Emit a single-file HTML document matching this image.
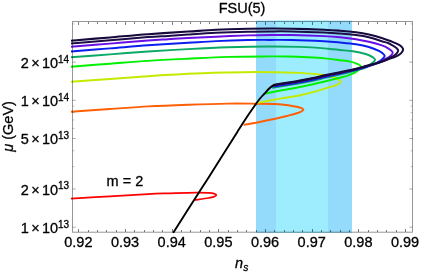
<!DOCTYPE html><html><head><meta charset="utf-8"><style>html,body{margin:0;padding:0;background:#fff;overflow:hidden}body{width:436px;height:272px;position:relative;font-family:"Liberation Sans",sans-serif}</style></head><body><svg width="436" height="272" viewBox="0 0 436 272" style="position:absolute;left:0;top:0;will-change:transform">
<rect width="436" height="272" fill="#fff"/>
<rect x="256" y="20.6" width="96" height="212.2" fill="#94dbfb"/>
<rect x="276" y="20.6" width="52" height="212.2" fill="#9eedff"/>
<defs><clipPath id="c"><rect x="70.6" y="20" width="344" height="213.2"/></clipPath></defs>
<g clip-path="url(#c)" fill="none" stroke-linecap="butt" stroke-linejoin="round">
<path d="M71.00,198.60 C77.50,198.22 97.17,197.06 110.00,196.30 C122.83,195.54 138.00,194.55 148.00,194.05 C158.00,193.55 162.05,193.54 170.00,193.30 C177.95,193.06 189.27,192.67 195.70,192.60 C202.13,192.53 205.55,192.73 208.60,192.90 C211.65,193.07 212.72,193.23 214.00,193.60 C215.28,193.97 216.38,194.55 216.30,195.10 C216.22,195.65 214.78,196.42 213.50,196.90 C212.22,197.38 211.77,197.45 208.60,198.00 C205.43,198.55 196.85,199.83 194.50,200.20" stroke="#ff0000" stroke-width="1.75"/>
<path d="M71.00,111.70 C77.50,111.25 97.17,109.88 110.00,109.00 C122.83,108.12 135.00,107.12 148.00,106.40 C161.00,105.68 174.67,105.17 188.00,104.70 C201.33,104.23 216.67,103.77 228.00,103.60 C239.33,103.43 248.12,103.63 256.00,103.70 C263.88,103.77 269.93,103.75 275.30,104.00 C280.67,104.25 284.33,104.67 288.20,105.20 C292.07,105.73 296.25,106.70 298.50,107.20 C300.75,107.70 300.88,107.78 301.70,108.20 C302.52,108.62 303.40,109.20 303.40,109.70 C303.40,110.20 302.52,110.70 301.70,111.20 C300.88,111.70 300.75,111.97 298.50,112.70 C296.25,113.43 292.07,114.58 288.20,115.60 C284.33,116.62 280.67,117.62 275.30,118.80 C269.93,119.98 261.28,121.70 256.00,122.70 C250.72,123.70 245.67,124.45 243.60,124.80" stroke="#ff5f05" stroke-width="1.95"/>
<path d="M71.00,81.70 C77.50,81.25 97.17,79.92 110.00,79.00 C122.83,78.08 135.00,77.07 148.00,76.20 C161.00,75.33 174.67,74.42 188.00,73.80 C201.33,73.18 216.67,72.80 228.00,72.50 C239.33,72.20 247.05,72.02 256.00,72.00 C264.95,71.98 274.37,72.25 281.70,72.40 C289.03,72.55 294.80,72.65 300.00,72.90 C305.20,73.15 308.62,73.48 312.90,73.90 C317.18,74.32 322.07,74.75 325.70,75.40 C329.33,76.05 332.22,76.82 334.70,77.80 C337.18,78.78 340.33,80.07 340.60,81.30 C340.87,82.53 338.57,84.10 336.30,85.20 C334.03,86.30 330.38,86.87 327.00,87.90 C323.62,88.93 320.50,90.18 316.00,91.40 C311.50,92.62 305.33,94.10 300.00,95.20 C294.67,96.30 288.12,97.28 284.00,98.00 C279.88,98.72 279.55,98.73 275.30,99.50 C271.05,100.27 261.55,102.03 258.50,102.60 C255.45,103.17 257.25,102.85 257.00,102.90" stroke="#c3eb00" stroke-width="1.95"/>
<path d="M71.00,66.70 C77.50,66.20 97.17,64.67 110.00,63.70 C122.83,62.73 135.00,61.68 148.00,60.85 C161.00,60.02 174.67,59.36 188.00,58.70 C201.33,58.04 214.67,57.28 228.00,56.90 C241.33,56.52 258.00,56.47 268.00,56.40 C278.00,56.33 281.33,56.35 288.00,56.50 C294.67,56.65 301.87,56.98 308.00,57.30 C314.13,57.62 319.47,57.92 324.80,58.40 C330.13,58.88 335.75,59.67 340.00,60.20 C344.25,60.73 347.52,61.03 350.30,61.60 C353.08,62.17 354.98,62.83 356.70,63.60 C358.42,64.37 360.60,64.88 360.60,66.20 C360.60,67.52 358.85,69.93 356.70,71.50 C354.55,73.07 350.72,74.52 347.70,75.60 C344.68,76.68 342.27,77.07 338.60,78.00 C334.93,78.93 329.98,80.17 325.70,81.20 C321.42,82.23 317.18,83.23 312.90,84.20 C308.62,85.17 305.20,86.00 300.00,87.00 C294.80,88.00 287.20,89.17 281.70,90.20 C276.20,91.23 269.70,92.64 267.00,93.20 C264.30,93.76 265.75,93.49 265.50,93.55" stroke="#00f000" stroke-width="1.95"/>
<path d="M71.00,57.30 C77.50,56.82 97.17,55.37 110.00,54.40 C122.83,53.43 135.00,52.38 148.00,51.50 C161.00,50.62 174.67,49.80 188.00,49.10 C201.33,48.40 214.67,47.73 228.00,47.30 C241.33,46.87 256.00,46.57 268.00,46.50 C280.00,46.43 290.00,46.53 300.00,46.90 C310.00,47.27 321.33,48.18 328.00,48.70 C334.67,49.22 335.85,49.57 340.00,50.00 C344.15,50.43 348.62,50.63 352.90,51.30 C357.18,51.97 362.48,53.08 365.70,54.00 C368.92,54.92 370.63,55.88 372.20,56.85 C373.77,57.82 375.10,58.77 375.10,59.80 C375.10,60.82 373.33,62.03 372.20,63.00 C371.07,63.97 369.38,64.82 368.30,65.60 C367.22,66.38 367.75,66.82 365.70,67.66 C363.65,68.49 360.52,69.42 356.00,70.60 C351.48,71.78 343.65,73.55 338.60,74.73 C333.55,75.90 329.98,76.64 325.70,77.65 C321.42,78.66 317.18,79.82 312.90,80.77 C308.62,81.71 304.12,82.54 300.00,83.30 C295.88,84.06 292.32,84.63 288.20,85.30 C284.08,85.97 277.98,86.88 275.30,87.30 C272.62,87.72 272.63,87.71 272.10,87.80" stroke="#0aaa64" stroke-width="1.95"/>
<path d="M71.00,51.50 C77.50,50.98 97.17,49.43 110.00,48.40 C122.83,47.37 135.00,46.23 148.00,45.30 C161.00,44.37 176.67,43.50 188.00,42.80 C199.33,42.10 206.00,41.57 216.00,41.10 C226.00,40.63 239.00,40.20 248.00,40.00 C257.00,39.80 262.67,39.90 270.00,39.90 C277.33,39.90 283.00,39.77 292.00,40.00 C301.00,40.23 316.00,40.88 324.00,41.30 C332.00,41.72 334.67,42.02 340.00,42.50 C345.33,42.98 351.18,43.45 356.00,44.20 C360.82,44.95 365.00,45.83 368.90,47.00 C372.80,48.17 376.80,49.83 379.40,51.20 C382.00,52.57 383.82,54.08 384.50,55.20 C385.18,56.32 384.20,56.98 383.50,57.90 C382.80,58.82 381.60,59.78 380.30,60.70 C379.00,61.62 377.08,62.65 375.70,63.40 C374.32,64.15 373.67,64.60 372.00,65.20 C370.33,65.80 368.37,66.23 365.70,67.01 C363.03,67.80 360.52,68.74 356.00,69.89 C351.48,71.04 343.65,72.77 338.60,73.91 C333.55,75.05 329.98,75.76 325.70,76.74 C321.42,77.72 317.18,78.85 312.90,79.78 C308.62,80.70 304.12,81.55 300.00,82.30 C295.88,83.05 292.32,83.63 288.20,84.30 C284.08,84.97 277.78,85.91 275.30,86.30 C272.82,86.69 273.63,86.56 273.30,86.61" stroke="#0a1ef0" stroke-width="1.95"/>
<path d="M71.00,46.70 C77.50,46.18 97.17,44.63 110.00,43.60 C122.83,42.57 138.33,41.23 148.00,40.50 C157.67,39.77 161.33,39.62 168.00,39.20 C174.67,38.78 180.00,38.42 188.00,38.00 C196.00,37.58 206.00,37.13 216.00,36.70 C226.00,36.27 239.00,35.68 248.00,35.40 C257.00,35.12 262.67,35.06 270.00,35.00 C277.33,34.94 283.00,34.87 292.00,35.05 C301.00,35.23 316.00,35.74 324.00,36.10 C332.00,36.46 334.67,36.68 340.00,37.20 C345.33,37.72 351.18,38.43 356.00,39.20 C360.82,39.97 364.70,40.80 368.90,41.80 C373.10,42.80 377.92,44.07 381.20,45.20 C384.48,46.33 386.63,47.40 388.55,48.60 C390.47,49.80 392.32,51.23 392.70,52.40 C393.08,53.57 391.70,54.68 390.85,55.60 C390.00,56.52 388.91,57.13 387.60,57.90 C386.29,58.67 384.37,59.47 383.00,60.20 C381.63,60.93 381.23,61.53 379.40,62.30 C377.57,63.07 374.28,64.09 372.00,64.80 C369.72,65.51 368.37,65.80 365.70,66.55 C363.03,67.31 360.52,68.23 356.00,69.33 C351.48,70.44 343.65,72.08 338.60,73.18 C333.55,74.27 329.98,74.95 325.70,75.88 C321.42,76.82 317.18,77.89 312.90,78.79 C308.62,79.69 304.12,80.55 300.00,81.30 C295.88,82.05 292.32,82.63 288.20,83.30 C284.08,83.97 277.62,84.94 275.30,85.30 C272.98,85.66 274.47,85.43 274.30,85.46" stroke="#6a0ee6" stroke-width="1.95"/>
<path d="M71.00,43.60 C77.50,43.05 97.17,41.38 110.00,40.30 C122.83,39.22 138.33,37.83 148.00,37.10 C157.67,36.37 161.33,36.33 168.00,35.90 C174.67,35.47 180.00,35.02 188.00,34.50 C196.00,33.98 206.00,33.27 216.00,32.80 C226.00,32.33 239.00,31.93 248.00,31.70 C257.00,31.47 262.67,31.44 270.00,31.40 C277.33,31.36 283.00,31.27 292.00,31.45 C301.00,31.63 316.00,32.16 324.00,32.50 C332.00,32.84 334.67,33.07 340.00,33.50 C345.33,33.93 351.18,34.47 356.00,35.10 C360.82,35.73 364.62,36.28 368.90,37.30 C373.18,38.32 378.52,40.25 381.70,41.20 C384.88,42.15 386.25,42.33 388.00,43.00 C389.75,43.67 390.80,44.38 392.20,45.20 C393.60,46.02 395.40,47.00 396.40,47.90 C397.40,48.80 398.20,49.62 398.20,50.60 C398.20,51.58 397.25,52.88 396.40,53.80 C395.55,54.72 394.50,55.30 393.10,56.10 C391.70,56.90 390.28,57.52 388.00,58.60 C385.72,59.68 382.07,61.58 379.40,62.60 C376.73,63.62 374.28,64.06 372.00,64.70 C369.72,65.34 368.37,65.68 365.70,66.43 C363.03,67.18 360.52,68.09 356.00,69.18 C351.48,70.27 343.65,71.89 338.60,72.97 C333.55,74.04 329.98,74.71 325.70,75.63 C321.42,76.55 317.18,77.60 312.90,78.49 C308.62,79.39 304.12,80.25 300.00,81.00 C295.88,81.75 292.32,82.33 288.20,83.00 C284.08,83.67 277.53,84.65 275.30,85.00 C273.07,85.35 274.88,85.06 274.80,85.08" stroke="#1e0c46" stroke-width="2.00"/>
<path d="M71.00,40.70 C77.50,40.15 97.17,38.48 110.00,37.40 C122.83,36.32 135.00,35.17 148.00,34.20 C161.00,33.23 176.67,32.33 188.00,31.60 C199.33,30.87 206.00,30.27 216.00,29.80 C226.00,29.33 239.00,29.01 248.00,28.80 C257.00,28.59 262.67,28.57 270.00,28.55 C277.33,28.53 283.00,28.51 292.00,28.70 C301.00,28.89 316.00,29.37 324.00,29.70 C332.00,30.03 334.67,30.27 340.00,30.70 C345.33,31.13 351.18,31.67 356.00,32.30 C360.82,32.93 364.62,33.57 368.90,34.50 C373.18,35.43 377.88,36.72 381.70,37.90 C385.52,39.08 388.97,40.48 391.80,41.60 C394.63,42.72 397.02,43.68 398.70,44.60 C400.38,45.52 401.17,46.25 401.90,47.10 C402.63,47.95 403.18,48.73 403.10,49.70 C403.02,50.67 402.29,51.92 401.40,52.90 C400.51,53.88 399.28,54.77 397.75,55.60 C396.22,56.43 394.19,57.13 392.20,57.90 C390.21,58.67 387.93,59.47 385.80,60.20 C383.67,60.93 381.70,61.60 379.40,62.30 C377.10,63.00 374.28,63.77 372.00,64.40 C369.72,65.03 368.37,65.37 365.70,66.10 C363.03,66.83 360.52,67.73 356.00,68.80 C351.48,69.87 343.65,71.45 338.60,72.50 C333.55,73.55 329.98,74.20 325.70,75.10 C321.42,76.00 317.18,77.02 312.90,77.90 C308.62,78.78 304.12,79.65 300.00,80.40 C295.88,81.15 292.32,81.73 288.20,82.40 C284.08,83.07 277.45,84.07 275.30,84.40" stroke="#180a3c" stroke-width="2.05"/>
<path d="M173.10,233.00 C177.67,225.83 194.32,199.67 200.50,190.00 C206.68,180.33 204.90,183.33 210.20,175.00 C215.50,166.67 227.80,147.13 232.30,140.00 C236.80,132.87 234.85,135.90 237.20,132.20 C239.55,128.50 243.43,122.28 246.40,117.80 C249.37,113.32 252.73,108.52 255.00,105.30 C257.27,102.08 258.40,100.47 260.00,98.50 C261.60,96.53 263.07,95.17 264.60,93.50 C266.13,91.83 267.82,89.82 269.20,88.50 C270.58,87.18 271.90,86.28 272.90,85.60 C273.90,84.92 274.82,84.60 275.20,84.40" stroke="#000" stroke-width="1.9"/>
</g>
<g stroke="rgba(0,0,0,0.43)" stroke-width="0.95" fill="none">
<rect x="72.5" y="21.5" width="340.0" height="210.7"/>
</g>
<g stroke="rgba(0,0,0,0.5)" stroke-width="1" fill="none" shape-rendering="crispEdges">
<path d="M78.50,232.20v-3.50M78.50,21.50v3.50"/>
<path d="M88.50,232.20v-2.40M88.50,21.50v2.40"/>
<path d="M97.50,232.20v-2.40M97.50,21.50v2.40"/>
<path d="M106.50,232.20v-2.40M106.50,21.50v2.40"/>
<path d="M116.50,232.20v-2.40M116.50,21.50v2.40"/>
<path d="M125.50,232.20v-3.50M125.50,21.50v3.50"/>
<path d="M134.50,232.20v-2.40M134.50,21.50v2.40"/>
<path d="M144.50,232.20v-2.40M144.50,21.50v2.40"/>
<path d="M153.50,232.20v-2.40M153.50,21.50v2.40"/>
<path d="M162.50,232.20v-2.40M162.50,21.50v2.40"/>
<path d="M172.50,232.20v-3.50M172.50,21.50v3.50"/>
<path d="M181.50,232.20v-2.40M181.50,21.50v2.40"/>
<path d="M190.50,232.20v-2.40M190.50,21.50v2.40"/>
<path d="M200.50,232.20v-2.40M200.50,21.50v2.40"/>
<path d="M209.50,232.20v-2.40M209.50,21.50v2.40"/>
<path d="M218.50,232.20v-3.50M218.50,21.50v3.50"/>
<path d="M228.50,232.20v-2.40M228.50,21.50v2.40"/>
<path d="M237.50,232.20v-2.40M237.50,21.50v2.40"/>
<path d="M246.50,232.20v-2.40M246.50,21.50v2.40"/>
<path d="M256.50,232.20v-2.40M256.50,21.50v2.40"/>
<path d="M265.50,232.20v-3.50M265.50,21.50v3.50"/>
<path d="M274.50,232.20v-2.40M274.50,21.50v2.40"/>
<path d="M284.50,232.20v-2.40M284.50,21.50v2.40"/>
<path d="M293.50,232.20v-2.40M293.50,21.50v2.40"/>
<path d="M302.50,232.20v-2.40M302.50,21.50v2.40"/>
<path d="M312.50,232.20v-3.50M312.50,21.50v3.50"/>
<path d="M321.50,232.20v-2.40M321.50,21.50v2.40"/>
<path d="M330.50,232.20v-2.40M330.50,21.50v2.40"/>
<path d="M340.50,232.20v-2.40M340.50,21.50v2.40"/>
<path d="M349.50,232.20v-2.40M349.50,21.50v2.40"/>
<path d="M358.50,232.20v-3.50M358.50,21.50v3.50"/>
<path d="M368.50,232.20v-2.40M368.50,21.50v2.40"/>
<path d="M377.50,232.20v-2.40M377.50,21.50v2.40"/>
<path d="M386.50,232.20v-2.40M386.50,21.50v2.40"/>
<path d="M396.50,232.20v-2.40M396.50,21.50v2.40"/>
<path d="M405.50,232.20v-3.50M405.50,21.50v3.50"/>
</g>
<g stroke="rgba(0,0,0,0.4)" stroke-width="0.8" fill="none">
<path d="M72.50,227.20h3.2M412.50,227.20h-3.2"/>
<path d="M72.50,189.00h3.2M412.50,189.00h-3.2"/>
<path d="M72.50,138.50h3.2M412.50,138.50h-3.2"/>
<path d="M72.50,100.30h3.2M412.50,100.30h-3.2"/>
<path d="M72.50,62.10h3.2M412.50,62.10h-3.2"/>
</g>
<g stroke="rgba(0,0,0,0.33)" stroke-width="0.7" fill="none">
<path d="M72.50,166.65h2.0M412.50,166.65h-2.0"/>
<path d="M72.50,150.80h2.0M412.50,150.80h-2.0"/>
<path d="M72.50,128.45h2.0M412.50,128.45h-2.0"/>
<path d="M72.50,119.96h2.0M412.50,119.96h-2.0"/>
<path d="M72.50,112.60h2.0M412.50,112.60h-2.0"/>
<path d="M72.50,106.11h2.0M412.50,106.11h-2.0"/>
<path d="M72.50,39.75h2.0M412.50,39.75h-2.0"/>
<path d="M72.50,23.90h2.0M412.50,23.90h-2.0"/>
</g>
<g opacity="0.999" font-family="Liberation Sans, sans-serif" font-size="14.5" fill="#000" stroke="#000" stroke-width="0.3" stroke-linejoin="round">
<text x="242" y="13" text-anchor="middle">FSU(5)</text>
<text x="78.40" y="246.7" text-anchor="middle">0.92</text>
<text x="125.06" y="246.7" text-anchor="middle">0.93</text>
<text x="171.72" y="246.7" text-anchor="middle">0.94</text>
<text x="218.38" y="246.7" text-anchor="middle">0.95</text>
<text x="265.04" y="246.7" text-anchor="middle">0.96</text>
<text x="311.70" y="246.7" text-anchor="middle">0.97</text>
<text x="358.36" y="246.7" text-anchor="middle">0.98</text>
<text x="405.02" y="246.7" text-anchor="middle">0.99</text>
<text x="20.7" y="233.10">1</text>
<text x="31.2" y="233.10">×</text>
<text x="42.0" y="233.10">10</text>
<text x="57.9" y="227.60" font-size="10" letter-spacing="0.1">13</text>
<text x="20.7" y="194.90">2</text>
<text x="31.2" y="194.90">×</text>
<text x="42.0" y="194.90">10</text>
<text x="57.9" y="189.40" font-size="10" letter-spacing="0.1">13</text>
<text x="20.7" y="144.40">5</text>
<text x="31.2" y="144.40">×</text>
<text x="42.0" y="144.40">10</text>
<text x="57.9" y="138.90" font-size="10" letter-spacing="0.1">13</text>
<text x="20.7" y="106.20">1</text>
<text x="31.2" y="106.20">×</text>
<text x="42.0" y="106.20">10</text>
<text x="57.9" y="100.70" font-size="10" letter-spacing="0.1">14</text>
<text x="20.7" y="68.00">2</text>
<text x="31.2" y="68.00">×</text>
<text x="42.0" y="68.00">10</text>
<text x="57.9" y="62.50" font-size="10" letter-spacing="0.1">14</text>
<text x="106.6" y="186.2">m = 2</text>
<text x="235.0" y="267.5" font-style="italic">n</text>
<text x="243.2" y="270.6" font-style="italic" font-size="10.3">s</text>
<text transform="translate(12.9,126.4) rotate(-90)" text-anchor="middle"><tspan font-style="italic">μ</tspan> (GeV)</text>
</g>
</svg></body></html>
